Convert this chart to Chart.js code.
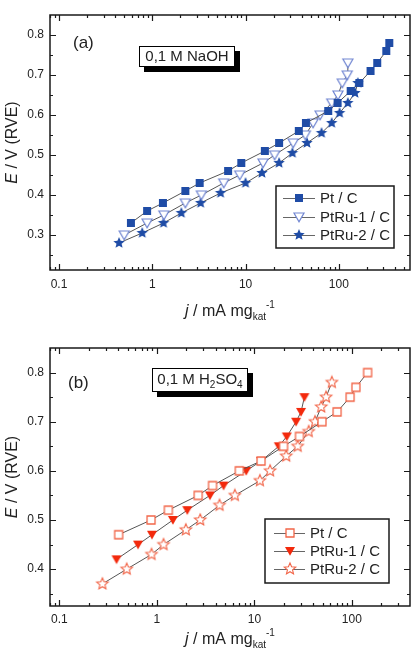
<!DOCTYPE html>
<html>
<head>
<meta charset="utf-8">
<script src="https://cdn.jsdelivr.net/npm/chart.js@4.4.1/dist/chart.umd.min.js"></script>
<style>
  body { margin: 0; background: #fff; }
  #wrap { position: relative; width: 420px; height: 655px; }
  canvas { position: absolute; left: 0; }
</style>
</head>
<body>
<div id="wrap">
  <canvas id="chartA" width="420" height="327" style="top:0"></canvas>
  <canvas id="chartB" width="420" height="328" style="top:327px"></canvas>
</div>
<script>
// series names (legend)
const seriesNames = ["Pt / C", "PtRu-1 / C", "PtRu-2 / C"];

// (a) 0,1 M NaOH  -- j in mA/mg, E in V
const jPtNaOH  = [0.59, 0.88, 1.30, 2.26, 3.22, 6.5, 9.0, 16.1, 22.9, 37.2, 44.4, 77, 97, 134, 166, 219, 258, 323, 348];
const ePtNaOH  = [0.33, 0.36, 0.38, 0.41, 0.43, 0.46, 0.48, 0.51, 0.53, 0.56, 0.58, 0.61, 0.63, 0.66, 0.68, 0.71, 0.73, 0.76, 0.78];
const jRu1NaOH = [0.50, 0.88, 1.33, 2.26, 3.36, 5.83, 8.66, 15.4, 20.5, 32.4, 43.8, 53, 63, 84, 98, 109, 123, 125];
const eRu1NaOH = [0.30, 0.33, 0.35, 0.38, 0.40, 0.43, 0.45, 0.48, 0.50, 0.53, 0.55, 0.58, 0.60, 0.63, 0.65, 0.68, 0.70, 0.73];
const jRu2NaOH = [0.44, 0.78, 1.32, 2.05, 3.30, 5.4, 10.0, 15.0, 22.9, 31.8, 45.6, 65.3, 84, 102, 125, 149, 160];
const eRu2NaOH = [0.28, 0.305, 0.33, 0.355, 0.38, 0.405, 0.43, 0.455, 0.48, 0.505, 0.53, 0.555, 0.58, 0.605, 0.63, 0.655, 0.68];

// (b) 0,1 M H2SO4
const jPtH2SO4  = [0.405, 0.87, 1.31, 2.65, 3.72, 7.0, 11.7, 19.9, 29.0, 49.4, 70.6, 95.9, 110, 145];
const ePtH2SO4  = [0.47, 0.50, 0.52, 0.55, 0.57, 0.60, 0.62, 0.65, 0.67, 0.70, 0.72, 0.75, 0.77, 0.80];
const jRu1H2SO4 = [0.385, 0.64, 0.89, 1.46, 2.05, 3.5, 4.83, 8.24, 11.7, 17.8, 21.5, 26.8, 30.1, 32.6];
const eRu1H2SO4 = [0.42, 0.45, 0.47, 0.50, 0.52, 0.55, 0.57, 0.60, 0.62, 0.65, 0.67, 0.70, 0.72, 0.75];
const jRu2H2SO4 = [0.276, 0.49, 0.88, 1.17, 1.98, 2.78, 4.39, 6.3, 11.4, 14.5, 21.2, 27.8, 36.1, 41.9, 48.5, 54.4, 62.3];
const eRu2H2SO4 = [0.37, 0.40, 0.43, 0.45, 0.48, 0.50, 0.53, 0.55, 0.58, 0.60, 0.63, 0.65, 0.68, 0.70, 0.73, 0.75, 0.78];

// tick labels
const xTickLabels = [0.1, 1, 10, 100];
const yTickLabelsA = [0.3, 0.4, 0.5, 0.6, 0.7, 0.8];
const yTickLabelsB = [0.4, 0.5, 0.6, 0.7, 0.8];

const FONT = "'Liberation Sans', Arial, Helvetica, sans-serif";
const TXT = "#222";
Chart.defaults.font.family = FONT;

// marker images
function marker(shape, size, fill, stroke, lw) {
  const c = document.createElement("canvas");
  c.width = c.height = size + 4;
  const g = c.getContext("2d");
  g.translate(c.width / 2, c.height / 2);
  const r = size / 2;
  g.beginPath();
  if (shape === "square") {
    g.rect(-r, -r, size, size);
  } else if (shape === "triDown") {
    g.moveTo(-r, -r * 0.8);
    g.lineTo(r, -r * 0.8);
    g.lineTo(0, r * 0.95);
    g.closePath();
  } else {
    for (let i = 0; i < 10; i++) {
      const ang = -Math.PI / 2 + i * Math.PI / 5;
      const rr = i % 2 ? r * 0.45 : r;
      g.lineTo(Math.cos(ang) * rr, Math.sin(ang) * rr);
    }
    g.closePath();
  }
  g.fillStyle = fill;
  g.fill();
  if (stroke) {
    g.lineWidth = lw;
    g.strokeStyle = stroke;
    g.stroke();
  }
  return c;
}

const blue = "#1f4ca6";
const blueLight = "#7186d2";
const redOpen = "#f26548";
const redFill = "#f3290c";

const mkA = [
  marker("square", 8, blue, null, 0),
  marker("triDown", 10, "#fff", blueLight, 1.2),
  marker("star", 12, blue, null, 0)
];
const mkB = [
  marker("square", 8, "#fff", redOpen, 1.3),
  marker("triDown", 10, redFill, null, 0),
  marker("star", 12, "#fff", redOpen, 1.1)
];

function pts(xs, ys) {
  return xs.map((x, i) => ({ x: x, y: ys[i] }));
}

function ds(label, xs, ys, img) {
  return {
    label: label,
    data: pts(xs, ys),
    showLine: true,
    borderColor: "#555",
    borderWidth: 1,
    pointStyle: img,
    pointRadius: 4,
    pointHoverRadius: 4
  };
}

const decor = {
  chartA: {
    panel: "(a)", panelX: 73, panelY: 43,
    box: { x: 139, y: 46, w: 96, h: 21, sh: 5, parts: [{ t: "0,1 M NaOH" }] },
    legend: { x: 276, y: 186, w: 118, h: 62, rows: [198, 217, 235], l1: 283, l2: 315, mx: 299, tx: 320 },
    markers: mkA,
    yTitle: { x: 13, y: 142.5 },
    xTitle: { x: 230, y: 312 }
  },
  chartB: {
    panel: "(b)", panelX: 68, panelY: 56,
    box: { x: 152, y: 41, w: 96, h: 24, sh: 5, parts: [{ t: "0,1 M H" }, { t: "2", sub: true }, { t: "SO" }, { t: "4", sub: true }] },
    legend: { x: 265, y: 192, w: 124, h: 64, rows: [206, 224, 242], l1: 274, l2: 305, mx: 290, tx: 310 },
    markers: mkB,
    yTitle: { x: 13, y: 150 },
    xTitle: { x: 230, y: 313 }
  }
};

// draw text made of runs (italic / sub / sup), centered at cx
function drawRuns(ctx, runs, cx, cy, size) {
  const smallSize = Math.round(size * 0.65);
  const fontOf = r => (r.it ? "italic " : "") + (r.sub || r.sup ? smallSize : size) + "px " + FONT;
  let total = 0;
  runs.forEach(r => { ctx.font = fontOf(r); total += ctx.measureText(r.t).width; });
  let x = cx - total / 2;
  ctx.textAlign = "left";
  ctx.textBaseline = "middle";
  runs.forEach(r => {
    ctx.font = fontOf(r);
    let dy = 0;
    if (r.sub) dy = size * 0.32;
    if (r.sup) dy = -size * 0.45;
    ctx.fillText(r.t, x, cy + dy);
    x += ctx.measureText(r.t).width;
  });
}

const decoPlugin = {
  id: "deco",
  afterDraw(chart) {
    const d = decor[chart.canvas.id];
    const ctx = chart.ctx;
    const a = chart.chartArea;
    const xs = chart.scales.x;
    const ys = chart.scales.y;
    ctx.save();

    // frame
    ctx.strokeStyle = "#1a1a1a";
    ctx.lineWidth = 1.5;
    ctx.strokeRect(a.left, a.top, a.right - a.left, a.bottom - a.top);

    // inward ticks
    ctx.lineWidth = 1.2;
    ctx.beginPath();
    for (let e = -2; e <= 3; e++) {
      for (let m = 1; m <= 9; m++) {
        const v = m * Math.pow(10, e);
        if (v < xs.min || v > xs.max) continue;
        const px = Math.round(xs.getPixelForValue(v)) + 0.5;
        const len = m === 1 ? 6 : 3;
        ctx.moveTo(px, a.bottom); ctx.lineTo(px, a.bottom - len);
        ctx.moveTo(px, a.top); ctx.lineTo(px, a.top + len);
      }
    }
    for (let k = 0; k <= 20; k++) {
      const v = k * 0.05;
      if (v < ys.min - 1e-9 || v > ys.max - 1e-6) continue;
      const py = Math.round(ys.getPixelForValue(v)) + 0.5;
      const len = k % 2 === 0 ? 6 : 3;
      ctx.moveTo(a.left, py); ctx.lineTo(a.left + len, py);
      ctx.moveTo(a.right, py); ctx.lineTo(a.right - len, py);
    }
    ctx.stroke();

    ctx.fillStyle = TXT;

    // axis titles
    ctx.save();
    ctx.translate(d.yTitle.x, d.yTitle.y);
    ctx.rotate(-Math.PI / 2);
    drawRuns(ctx, [{ t: "E", it: true }, { t: " / V (RVE)" }], 0, 0, 16);
    ctx.restore();
    drawRuns(ctx, [{ t: "j", it: true }, { t: " / mA mg" }, { t: "kat", sub: true }, { t: "-1", sup: true }], d.xTitle.x, d.xTitle.y, 16);

    // panel letter
    ctx.font = "17px " + FONT;
    ctx.textAlign = "left";
    ctx.textBaseline = "middle";
    ctx.fillText(d.panel, d.panelX, d.panelY);

    // electrolyte box with shadow
    const b = d.box;
    ctx.fillStyle = "#000";
    ctx.fillRect(b.x + b.sh, b.y + b.sh, b.w, b.h);
    ctx.fillStyle = "#fff";
    ctx.fillRect(b.x, b.y, b.w, b.h);
    ctx.strokeStyle = "#000";
    ctx.lineWidth = 1;
    ctx.strokeRect(b.x + 0.5, b.y + 0.5, b.w - 1, b.h - 1);
    ctx.fillStyle = TXT;
    drawRuns(ctx, b.parts, b.x + b.w / 2, b.y + b.h / 2, 15);

    // legend
    const L = d.legend;
    ctx.fillStyle = "#fff";
    ctx.fillRect(L.x, L.y, L.w, L.h);
    ctx.strokeStyle = "#1a1a1a";
    ctx.lineWidth = 1.5;
    ctx.strokeRect(L.x, L.y, L.w, L.h);
    seriesNames.forEach((name, i) => {
      const y = L.rows[i];
      ctx.strokeStyle = "#666";
      ctx.lineWidth = 1;
      ctx.beginPath();
      ctx.moveTo(L.l1, y + 0.5);
      ctx.lineTo(L.l2, y + 0.5);
      ctx.stroke();
      const img = d.markers[i];
      ctx.drawImage(img, L.mx - img.width / 2, y - img.height / 2);
      ctx.fillStyle = TXT;
      ctx.font = "15px " + FONT;
      ctx.textAlign = "left";
      ctx.textBaseline = "middle";
      ctx.fillText(name, L.tx, y + 1);
    });

    ctx.restore();
  }
};

function near(list, v) {
  return list.some(t => Math.abs(t - v) < 1e-6);
}

function makeChart(id, datasets, cfg) {
  return new Chart(document.getElementById(id).getContext("2d"), {
    type: "scatter",
    data: { datasets: datasets },
    options: {
      responsive: false,
      animation: false,
      events: [],
      layout: { padding: { top: cfg.top, right: 10, left: 0, bottom: 0 } },
      plugins: { legend: { display: false }, tooltip: { enabled: false } },
      scales: {
        x: {
          type: "logarithmic",
          min: cfg.xMin,
          max: cfg.xMax,
          grid: { display: false, drawTicks: false },
          border: { display: false },
          ticks: {
            autoSkip: false,
            maxRotation: 0,
            padding: cfg.xPad,
            color: TXT,
            font: { size: 12 },
            callback: v => (near(xTickLabels, v) ? String(v) : "")
          },
          afterFit: s => { s.height = cfg.xH; }
        },
        y: {
          min: cfg.yMin,
          max: cfg.yMax,
          grid: { display: false, drawTicks: false },
          border: { display: false },
          ticks: {
            stepSize: 0.05,
            autoSkip: false,
            padding: 6,
            color: TXT,
            font: { size: 12 },
            callback: v => (near(cfg.yLabels, v) ? v.toFixed(1) : "")
          },
          afterFit: s => { s.width = 50; }
        }
      }
    },
    plugins: [decoPlugin]
  });
}

makeChart("chartA", [
  ds(seriesNames[0], jPtNaOH, ePtNaOH, mkA[0]),
  ds(seriesNames[1], jRu1NaOH, eRu1NaOH, mkA[1]),
  ds(seriesNames[2], jRu2NaOH, eRu2NaOH, mkA[2])
], { top: 15, xH: 57, xMin: 0.08, xMax: 580, yMin: 0.2125, yMax: 0.85, yLabels: yTickLabelsA, xPad: 7 });

makeChart("chartB", [
  ds(seriesNames[0], jPtH2SO4, ePtH2SO4, mkB[0]),
  ds(seriesNames[1], jRu1H2SO4, eRu1H2SO4, mkB[1]),
  ds(seriesNames[2], jRu2H2SO4, eRu2H2SO4, mkB[2])
], { top: 21, xH: 49, xMin: 0.08, xMax: 395, yMin: 0.325, yMax: 0.85, yLabels: yTickLabelsB, xPad: 6 });
</script>
</body>
</html>
